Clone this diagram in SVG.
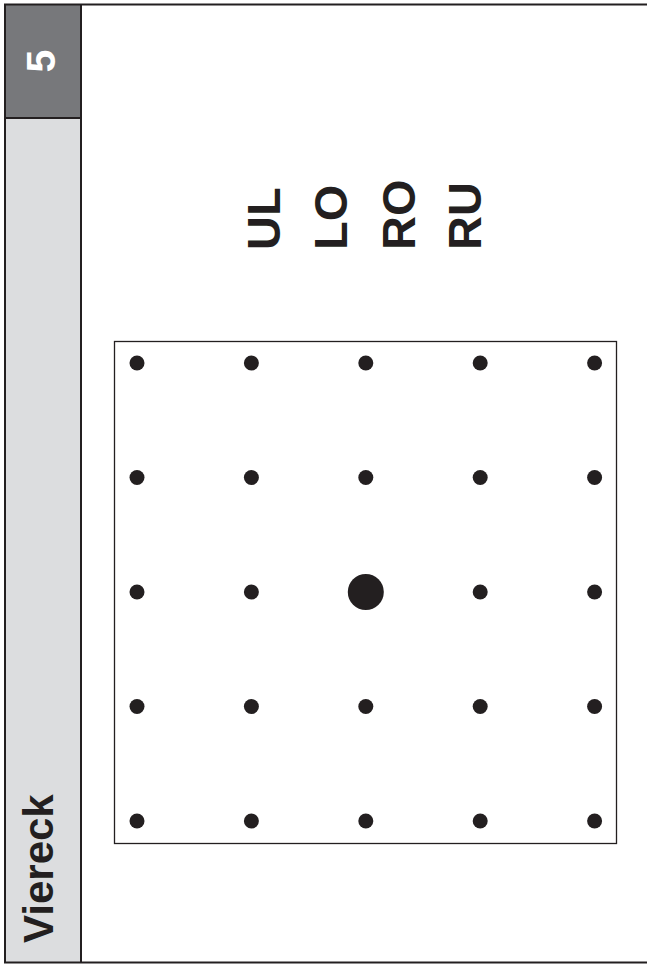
<svg xmlns="http://www.w3.org/2000/svg" width="647" height="965" viewBox="0 0 647 965">
<style>
.lbl{font-family:"Liberation Sans",Arial,sans-serif;font-weight:bold;fill:#231f20}
.dot{fill:#231f20}
</style>
<rect x="0" y="0" width="647" height="965" fill="#ffffff"/>
<g id="sidebar">
<rect x="5" y="5" width="76" height="113" fill="#77787b"/>
<rect x="5" y="118" width="76" height="844" fill="#dcdddf"/>
<line x1="5" y1="118" x2="81" y2="118" stroke="#231f20" stroke-width="2"/>
<line x1="81" y1="4" x2="81" y2="963" stroke="#231f20" stroke-width="2"/>
<text class="lbl" transform="translate(55,61) rotate(-90)" text-anchor="middle" font-size="41" style="fill:#ffffff">5</text>
<text class="lbl" transform="translate(53,943) rotate(-90)" font-size="42">Viereck</text>
</g>
<g id="frame">
<polyline points="647,4.5 5,4.5 5,962.5 647,962.5" fill="none" stroke="#231f20" stroke-width="2"/>
</g>
<g id="labels">
<text class="lbl" transform="translate(280,250) rotate(-90)" font-size="47">UL</text>
<text class="lbl" transform="translate(347,250) rotate(-90)" font-size="47">LO</text>
<text class="lbl" transform="translate(415,250) rotate(-90)" font-size="47">RO</text>
<text class="lbl" transform="translate(481,250) rotate(-90)" font-size="47">RU</text>
</g>
<g id="grid">
<rect x="114.5" y="341.5" width="502" height="502" fill="none" stroke="#231f20" stroke-width="1.3"/>
<g class="dot">
<circle cx="137" cy="363" r="7.5"/><circle cx="251.4" cy="363" r="7.5"/><circle cx="365.8" cy="363" r="7.5"/><circle cx="480.2" cy="363" r="7.5"/><circle cx="594.6" cy="363" r="7.5"/>
<circle cx="137" cy="477.5" r="7.5"/><circle cx="251.4" cy="477.5" r="7.5"/><circle cx="365.8" cy="477.5" r="7.5"/><circle cx="480.2" cy="477.5" r="7.5"/><circle cx="594.6" cy="477.5" r="7.5"/>
<circle cx="137" cy="592" r="7.5"/><circle cx="251.4" cy="592" r="7.5"/><circle cx="365.8" cy="592" r="18"/><circle cx="480.2" cy="592" r="7.5"/><circle cx="594.6" cy="592" r="7.5"/>
<circle cx="137" cy="706.5" r="7.5"/><circle cx="251.4" cy="706.5" r="7.5"/><circle cx="365.8" cy="706.5" r="7.5"/><circle cx="480.2" cy="706.5" r="7.5"/><circle cx="594.6" cy="706.5" r="7.5"/>
<circle cx="137" cy="821" r="7.5"/><circle cx="251.4" cy="821" r="7.5"/><circle cx="365.8" cy="821" r="7.5"/><circle cx="480.2" cy="821" r="7.5"/><circle cx="594.6" cy="821" r="7.5"/>
</g>
</g>
</svg>
